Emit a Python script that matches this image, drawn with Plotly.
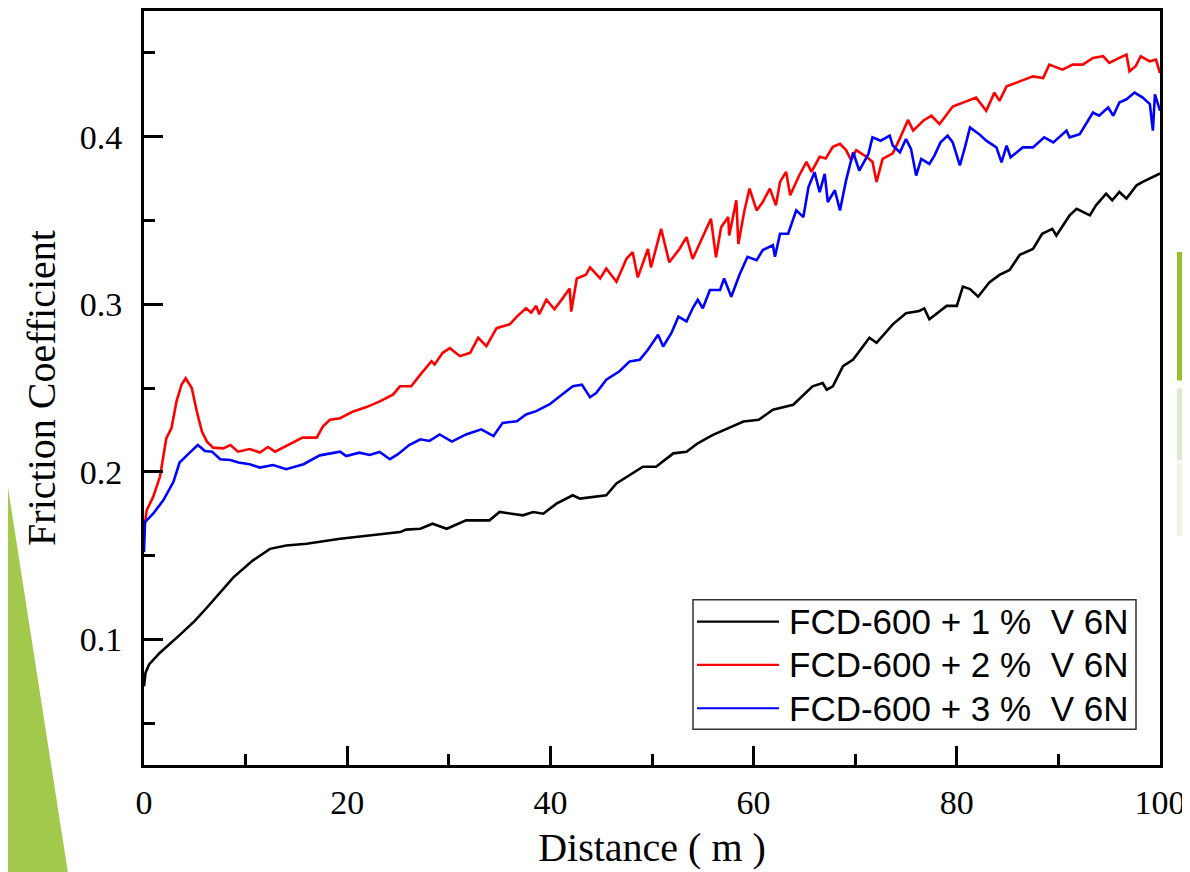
import plotly.graph_objects as go

# ---------------- data ----------------
series_names = ["FCD-600 + 1 %  V 6N", "FCD-600 + 2 %  V 6N", "FCD-600 + 3 %  V 6N"]
series_colors = ["#000000", "#FF0000", "#0000FF"]

x_1pct = [0, 0.15, 0.5, 1.57, 3.5, 5.0, 6.2, 7.5, 8.8, 10.7, 12.4, 14, 16, 19.3, 22.5, 25.2, 25.8, 27.2,
          28.4, 29.8, 31.7, 34, 35, 37.3, 38.3, 39.3, 40.6, 42.2, 42.9, 45.5, 46.5, 48.1, 49.1, 50.4,
          52.1, 53.4, 54.5, 56, 57.5, 59, 60.5, 61.9, 63.9, 64.9, 65.8, 66.8, 67.2, 67.8, 68.8, 69.8,
          71.4, 72.1, 73.7, 75, 76.3, 76.8, 77.3, 79, 80, 80.6, 81.3, 82.1, 83.2, 84.2, 85.2, 86.2,
          87.5, 88.4, 89.4, 89.8, 91.1, 91.8, 93.1, 93.7, 94.7, 95.3, 96, 96.7, 97.7, 98.3, 99.3, 100]
y_1pct = [0.072, 0.080, 0.085, 0.092, 0.1025, 0.111, 0.119, 0.128, 0.137, 0.147, 0.154, 0.156, 0.157,
          0.160, 0.162, 0.164, 0.1655, 0.166, 0.169, 0.166, 0.171, 0.171, 0.176, 0.174, 0.176, 0.175,
          0.181, 0.186, 0.184, 0.186, 0.193, 0.199, 0.203, 0.203, 0.211, 0.212, 0.217, 0.222, 0.226,
          0.230, 0.231, 0.237, 0.240, 0.246, 0.251, 0.253, 0.249, 0.251, 0.263, 0.267, 0.280, 0.277,
          0.288, 0.2946, 0.296, 0.2975, 0.291, 0.299, 0.299, 0.3105, 0.309, 0.3045, 0.313, 0.3175,
          0.3205, 0.3295, 0.333, 0.342, 0.345, 0.341, 0.353, 0.357, 0.353, 0.359, 0.366, 0.362, 0.367,
          0.363, 0.371, 0.373, 0.376, 0.378]

x_2pct = [0, 0.26, 0.9, 1.57, 2.2, 2.7, 3.2, 3.7, 4.1, 4.7, 5.2, 5.7, 6.2, 6.8, 7.8, 8.5, 9.25, 10.4,
          11.4, 12.2, 12.9, 14, 15.6, 17, 17.6, 18.3, 19.3, 20.6, 21.9, 23.2, 24.5, 25.2, 26.3, 27.2,
          28.3, 28.6, 29.4, 30.1, 31.1, 32.1, 32.9, 33.7, 34.7, 36, 36.7, 37.6, 38.1, 38.6, 38.9, 39.6,
          40.4, 41.2, 41.9, 42.05, 42.6, 43.5, 43.9, 44.9, 45.5, 46.5, 47.5, 48.1, 48.6, 49.6, 49.9,
          50.9, 51.7, 52.7, 53.4, 54, 54.9, 55.8, 56.3, 56.8, 57.5, 57.6, 58.3, 58.5, 59.1, 59.6, 60.3,
          60.9, 61.6, 62.2, 62.6, 63.2, 63.6, 64.5, 65.2, 65.7, 66.5, 67.1, 67.8, 68.5, 69.1, 69.6,
          70.1, 71.1, 71.7, 72.1, 72.7, 73.7, 74.4, 75.2, 75.7, 76.7, 77.5, 78.3, 79.6, 80.9, 81.9,
          82.9, 83.7, 84.2, 84.9, 86.2, 87.5, 88.5, 89.1, 90.4, 91.4, 92.4, 93.4, 94.4, 95, 96, 96.7,
          97, 97.6, 98.1, 99, 99.6, 100]
y_2pct = [0.165, 0.177, 0.185, 0.197, 0.220, 0.226, 0.242, 0.252, 0.2558, 0.250, 0.236, 0.224, 0.218,
          0.2144, 0.214, 0.216, 0.212, 0.2136, 0.2115, 0.2148, 0.212, 0.2154, 0.2204, 0.2204, 0.227,
          0.231, 0.232, 0.236, 0.2386, 0.242, 0.246, 0.251, 0.251, 0.258, 0.266, 0.264, 0.271, 0.2738,
          0.269, 0.271, 0.280, 0.275, 0.2857, 0.288, 0.2926, 0.2976, 0.295, 0.299, 0.294, 0.3027, 0.297,
          0.3035, 0.3094, 0.2956, 0.3154, 0.3176, 0.322, 0.3154, 0.3213, 0.3134, 0.3273, 0.331, 0.316,
          0.333, 0.322, 0.345, 0.325, 0.333, 0.340, 0.327, 0.339, 0.351, 0.328, 0.346, 0.352, 0.341,
          0.362, 0.336, 0.356, 0.369, 0.356, 0.361, 0.369, 0.359, 0.373, 0.379, 0.365, 0.377, 0.385,
          0.379, 0.388, 0.387, 0.394, 0.3957, 0.392, 0.386, 0.392, 0.388, 0.385, 0.373, 0.3867, 0.390,
          0.399, 0.410, 0.4036, 0.4095, 0.4125, 0.4075, 0.418, 0.421, 0.4233, 0.4155, 0.4263, 0.4214,
          0.430, 0.433, 0.436, 0.435, 0.443, 0.440, 0.443, 0.443, 0.447, 0.448, 0.444, 0.447, 0.449,
          0.439, 0.442, 0.448, 0.445, 0.446, 0.438]

x_3pct = [0, 0.1, 0.9, 1.9, 2.9, 3.5, 4.5, 5.3, 6, 6.7, 7.5, 8.5, 9.3, 10.4, 11.4, 12.7, 14, 15.7, 17.3,
          19.3, 19.9, 21.2, 22.2, 23.2, 24.2, 25, 26.1, 27.2, 28.1, 29.1, 30.3, 31.7, 33.2, 34.4, 35.3,
          36.7, 37.6, 38.6, 39.9, 41.2, 42.2, 43.1, 43.9, 44.5, 45.5, 46.8, 47.8, 48.8, 49.6, 50.6, 51.1,
          51.9, 52.6, 53.4, 54, 54.5, 55, 55.7, 56.7, 57.1, 57.8, 58.6, 59.4, 60.3, 60.9, 61.9, 62.1,
          62.6, 63.4, 64.2, 64.9, 65.4, 66, 66.5, 67, 67.3, 68, 68.5, 69.1, 69.8, 70.4, 71.3, 71.7, 72.5,
          73.4, 73.7, 74.4, 75, 75.5, 76, 76.5, 77.3, 77.8, 78.4, 79.1, 79.6, 80.3, 80.8, 81.3, 82.2,
          82.9, 83.9, 84.4, 84.9, 85.3, 86.5, 87.5, 88.6, 89.5, 90.8, 91.1, 92.1, 92.7, 93.4, 94, 94.9,
          95.4, 96, 96.7, 97.5, 98.3, 99, 99.3, 99.5, 100]
y_3pct = [0.152, 0.170, 0.175, 0.183, 0.194, 0.2055, 0.2114, 0.216, 0.2124, 0.212, 0.2075, 0.207,
          0.2055, 0.2045, 0.2025, 0.204, 0.2015, 0.2045, 0.2098, 0.212, 0.2094, 0.2114, 0.210, 0.2118,
          0.2075, 0.2105, 0.216, 0.2194, 0.2184, 0.2223, 0.2180, 0.2223, 0.2253, 0.2213, 0.2292, 0.2302,
          0.2342, 0.2362, 0.2402, 0.2461, 0.251, 0.252, 0.2445, 0.247, 0.255, 0.260, 0.2659, 0.2669,
          0.2728, 0.2818, 0.2748, 0.2827, 0.2926, 0.2897, 0.2976, 0.3026, 0.2976, 0.3085, 0.3085, 0.3154,
          0.3045, 0.3174, 0.3283, 0.3263, 0.3323, 0.3352, 0.3283, 0.3421, 0.3421, 0.356, 0.352, 0.3699,
          0.3788, 0.3669, 0.3778, 0.361, 0.368, 0.356, 0.3739, 0.3907, 0.3798, 0.3897, 0.3996, 0.3976,
          0.4006, 0.3947, 0.3907, 0.3986, 0.3926, 0.3768, 0.3867, 0.3837, 0.3887, 0.3966, 0.4006, 0.3966,
          0.3828, 0.3936, 0.4055, 0.4015, 0.3976, 0.3936, 0.3847, 0.3946, 0.3877, 0.3936, 0.3936, 0.3996,
          0.3966, 0.4036, 0.3996, 0.4015, 0.4075, 0.4144, 0.4125, 0.4174, 0.4125, 0.4204, 0.4223, 0.4263,
          0.4233, 0.4194, 0.4036, 0.4253, 0.4155]

x_values = [x_1pct, x_2pct, x_3pct]
y_values = [y_1pct, y_2pct, y_3pct]

x_title = "Distance ( m )"
y_title = "Friction Coefficient"

# ---------------- layout geometry ----------------
# the page places the figure 8 px from the top-left corner of the window
OFF = 8
W, H = 1190 - OFF, 872 - OFF
ML, MR, MT, MB = 144 - OFF, 30, 8 - OFF, 107
PW, PH = W - ML - MR, H - MT - MB


def px(xs):
    """screen x pixel -> paper coordinate"""
    return (xs - OFF - ML) / PW


def py(ys):
    """screen y pixel -> paper coordinate"""
    return (H - MB - (ys - OFF)) / PH


SERIF = "Times New Roman, Liberation Serif, serif"
SANS = "Arial, Liberation Sans, sans-serif"

fig = go.Figure()
for name, color, xs, ys in zip(series_names, series_colors, x_values, y_values):
    fig.add_trace(go.Scatter(x=xs, y=ys, mode="lines", name=name,
                             line=dict(color=color, width=2.6), showlegend=False))

axis_common = dict(showline=True, linewidth=3, linecolor="black", mirror=True,
                   ticks="inside", ticklen=19, tickwidth=3, tickcolor="black",
                   showgrid=False, zeroline=False,
                   tickfont=dict(family=SERIF, size=34, color="black"))

fig.update_xaxes(range=[0, 100], tick0=0, dtick=20,
                 minor=dict(dtick=10, ticks="inside", ticklen=11, tickwidth=3, tickcolor="black"),
                 ticklabelstandoff=5,
                 title=dict(text=x_title, font=dict(family=SERIF, size=40, color="black"), standoff=14),
                 **axis_common)
fig.update_yaxes(range=[0.025, 0.475], tick0=0, dtick=0.1, tickformat=".1f",
                 minor=dict(dtick=0.05, tick0=0, ticks="inside", ticklen=11, tickwidth=3, tickcolor="black"),
                 ticklabelstandoff=12,
                 title=dict(text=y_title, font=dict(family=SERIF, size=40, color="black"), standoff=12),
                 **axis_common)

shapes = []
# decorative slide elements
shapes.append(dict(type="path", xref="paper", yref="paper", layer="below",
                   path=f"M {px(0)} {py(435)} L {px(0)} {py(880)} L {px(69)} {py(880)} Z",
                   fillcolor="#A2C94C", line=dict(width=0)))
for (y0, y1, col) in [(250, 379, "#93C02B"), (387, 459, "#DCE9CF"), (462, 535, "#EEF3E8")]:
    shapes.append(dict(type="rect", xref="paper", yref="paper", layer="below",
                       x0=px(1177), x1=px(1195), y0=py(y1), y1=py(y0),
                       fillcolor=col, line=dict(width=0)))

# custom legend box
shapes.append(dict(type="rect", xref="paper", yref="paper",
                   x0=px(693), x1=px(1136), y0=py(729), y1=py(599),
                   fillcolor="white", line=dict(color="#333333", width=1.5)))
annotations = []
for i, (name, color) in enumerate(zip(series_names, series_colors)):
    yrow = 621 + i * 43.5
    shapes.append(dict(type="line", xref="paper", yref="paper",
                       x0=px(697), x1=px(779), y0=py(yrow), y1=py(yrow),
                       line=dict(color=color, width=2.2)))
    annotations.append(dict(xref="paper", yref="paper", x=px(787), y=py(yrow),
                            xanchor="left", yanchor="middle", showarrow=False,
                            text=name.replace("  ", " \u00a0"),
                            font=dict(family=SANS, size=35, color="black")))

fig.update_layout(width=W, height=H,
                  margin=dict(l=ML, r=MR, t=MT, b=MB),
                  paper_bgcolor="white", plot_bgcolor="white",
                  shapes=shapes, annotations=annotations, showlegend=False)

fig.write_html("out.html")
